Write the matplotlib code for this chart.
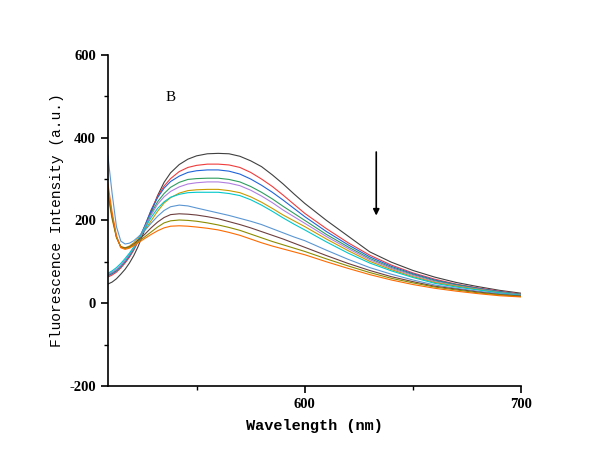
import numpy as np
import matplotlib
matplotlib.use("Agg")
import matplotlib.pyplot as plt
from matplotlib.ticker import MultipleLocator

plt.rcParams["axes.unicode_minus"] = False

# wavelength grid (nm)
lam = [509, 511, 513, 515, 517, 519, 521, 523, 526, 529, 532, 535, 538, 542, 546, 550,
       555, 560, 565, 570, 575, 580, 585, 590, 595, 600, 610, 620, 630, 640, 650, 660,
       670, 680, 690, 700]

# fluorescence curves (a.u.), top peak to bottom peak
gray      = [46, 51, 59, 70, 82, 97, 115, 137, 176, 220, 260, 292, 315, 335, 348, 356,
             361, 362, 361, 355, 344, 330, 310, 288, 264, 241, 200, 162, 124, 99, 79, 63,
             50, 40, 31, 24]
red       = [63, 68, 75, 85, 97, 111, 128, 149, 185, 225, 258, 283, 301, 318, 328, 333,
             336, 336, 334, 328, 316, 300, 282, 261, 239, 217, 180, 146, 116, 92, 73, 58,
             46, 37, 29, 22]
blue      = [66, 71, 78, 88, 100, 114, 131, 151, 186, 224, 255, 278, 294, 307, 316, 320,
             322, 322, 319, 312, 300, 285, 268, 249, 229, 209, 173, 141, 112, 89, 71, 56,
             45, 36, 28, 21]
green     = [68, 73, 80, 90, 102, 116, 132, 151, 183, 217, 245, 265, 280, 292, 299, 301,
             302, 302, 299, 293, 282, 268, 252, 234, 217, 200, 166, 136, 108, 86, 69, 54,
             44, 35, 27, 21]
purple    = [70, 75, 82, 92, 104, 118, 134, 152, 182, 213, 239, 257, 270, 281, 288, 291,
             293, 293, 290, 284, 273, 259, 243, 225, 209, 193, 161, 132, 105, 84, 67, 52,
             42, 34, 26, 20]
goldenrod = [262, 203, 158, 137, 134, 138, 146, 157, 176, 199, 222, 242, 255, 266, 272, 274,
             275, 275, 272, 267, 257, 244, 229, 213, 199, 185, 155, 127, 101, 81, 64, 50,
             41, 33, 25, 19]
cyan      = [72, 78, 86, 96, 108, 121, 136, 153, 180, 207, 229, 245, 256, 263, 267, 268,
             268, 268, 265, 260, 250, 237, 222, 206, 191, 177, 148, 121, 97, 78, 62, 48,
             39, 32, 25, 19]
lightblue = [358, 265, 185, 150, 143, 145, 151, 160, 175, 193, 210, 224, 233, 237, 235, 230,
             224, 218, 212, 205, 198, 190, 180, 170, 160, 151, 128, 106, 86, 70, 56, 44,
             36, 29, 23, 18]
brown     = [270, 208, 160, 136, 133, 136, 143, 152, 166, 182, 196, 207, 214, 216, 215, 213,
             209, 204, 197, 190, 182, 173, 164, 155, 145, 135, 115, 96, 79, 64, 52, 41,
             34, 27, 21, 17]
olive     = [278, 212, 160, 135, 132, 135, 141, 149, 160, 172, 184, 194, 199, 201, 200, 198,
             194, 189, 183, 176, 167, 158, 149, 141, 133, 125, 107, 90, 74, 60, 49, 39,
             32, 25, 20, 16]
orange    = [291, 220, 163, 134, 130, 133, 139, 146, 156, 166, 175, 182, 186, 187, 186, 184,
             181, 177, 171, 164, 155, 146, 138, 131, 124, 117, 100, 84, 69, 56, 45, 36,
             29, 23, 18, 15]

series = [
    (gray, "#404040"),
    (red, "#f03c3c"),
    (blue, "#1f64d8"),
    (green, "#2e9e5e"),
    (purple, "#b07ee0"),
    (goldenrod, "#c99a00"),
    (cyan, "#00c8cc"),
    (lightblue, "#5b96d2"),
    (brown, "#6e3f3f"),
    (olive, "#8c8c00"),
    (orange, "#ff6a00"),
]

fig = plt.figure(figsize=(6.09, 4.65), dpi=100)
ax = fig.add_axes([0.177, 0.170, 0.679, 0.712])

for ys, c in series:
    ax.plot(lam, ys, color=c, lw=0.8)

ax.set_xlim(509, 700)
ax.set_ylim(-200, 600)
ax.spines["top"].set_visible(False)
ax.spines["right"].set_visible(False)
ax.spines["left"].set_linewidth(1.2)
ax.spines["bottom"].set_linewidth(1.2)
ax.xaxis.set_major_locator(MultipleLocator(100))
ax.xaxis.set_minor_locator(MultipleLocator(50))
ax.yaxis.set_major_locator(MultipleLocator(200))
ax.yaxis.set_minor_locator(MultipleLocator(100))
ax.tick_params(which="major", direction="out", length=5, width=1.2)
ax.tick_params(which="minor", direction="out", length=3, width=1)

for lbl in ax.get_xticklabels() + ax.get_yticklabels():
    lbl.set_family("Liberation Serif")
    lbl.set_fontweight("bold")
    lbl.set_fontsize(10.5)

ax.set_xlabel("Wavelength (nm)", family="Liberation Mono", fontweight="bold", fontsize=11, labelpad=6)
ax.set_ylabel("Fluorescence Intensity (a.u.)", family="Liberation Mono", fontsize=10.5)
ax.yaxis.set_label_coords(-0.107, 0.5)

ax.text(538, 498, "B", family="Liberation Serif", fontsize=11, ha="center", va="center")
ax.annotate("", xy=(633, 205), xytext=(633, 372),
            arrowprops=dict(arrowstyle="-|>", color="black", lw=1.2, mutation_scale=9))

fig.savefig("out.png", dpi=100)
